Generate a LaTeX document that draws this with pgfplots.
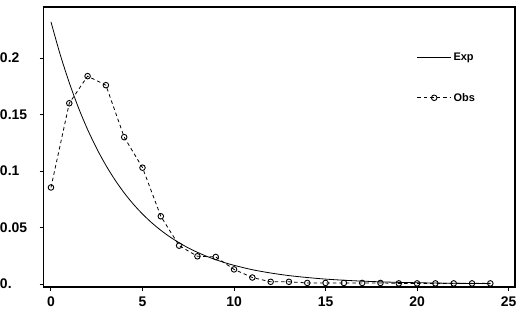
\documentclass[border=0pt]{standalone}
\usepackage{fontspec}
\setmainfont{Liberation Sans}
\usepackage{pgfplots}
\pgfplotsset{compat=1.18}
\begin{document}
\begin{tikzpicture}
\begin{axis}[
  name=ax,
  scale only axis,
  width=473pt, height=281pt,
  xmin=-0.4, xmax=25.35,
  ymin=-0.0026, ymax=0.2452,
  axis line style={line width=1.6pt},
  tick style={line width=1pt, black},
  tick align=outside,
  major tick length=4pt,
  xtick={0,5,10,15,20,25},
  xticklabels={0,5,10,15,20,25},
  ytick={0,0.05,0.1,0.15,0.2},
  yticklabels={0.,0.05,0.1,0.15,0.2},
  tick pos=left,
  ticklabel style={font=\fontsize{14}{16}\selectfont\bfseries},
  yticklabel style={anchor=west, inner sep=0pt, xshift=-40pt},
  xticklabel style={yshift=-2pt},
  legend style={draw=none, fill=none, at={(rel axis cs:0.785,0.85)}, anchor=north west,
    font=\fontsize{11}{13}\selectfont\bfseries, row sep=27pt},
  legend cell align=left,
  legend image code/.code={\draw[mark repeat=2,mark phase=2,#1] plot coordinates {(0pt,0pt) (17pt,0pt) (34pt,0pt)};},
]
\addplot[black, line width=0.8pt, smooth] coordinates {
(0,0.2320) (0.5,0.2033) (1,0.1782) (1.5,0.1561) (2,0.1368) (2.5,0.1199)
(3,0.1051) (3.5,0.0921) (4,0.0807) (4.5,0.0707) (5,0.0620) (5.5,0.0543)
(6,0.0476) (6.5,0.0417) (7,0.0366) (7.5,0.0320) (8,0.0281) (8.5,0.0246)
(9,0.0216) (9.5,0.0189) (10,0.0166) (11,0.0127) (12,0.0098) (13,0.0075)
(14,0.0058) (15,0.0044) (16,0.0034) (17,0.0026) (18,0.0020) (19,0.0015)
(20,0.0012) (21,0.0009) (22,0.0007) (23,0.0005) (24,0.0004)};
\addlegendentry{Exp}
\addplot[black, line width=0.8pt, dash pattern=on 3.5pt off 3pt, mark=o, mark size=2.8pt,
  mark options={solid, fill=white, line width=0.9pt}] coordinates {
(0,0.0855) (1,0.160) (2,0.184) (3,0.176) (4,0.130) (5,0.103) (6,0.060)
(7,0.034) (8,0.0246) (9,0.024) (10,0.013) (11,0.0058) (12,0.002) (13,0.002)
(14,0.001) (15,0.001) (16,0.001) (17,0.001) (18,0.001) (19,0.0006) (20,0.0006)
(21,0.0006) (22,0.0006) (23,0.0006) (24,0.0006)};
\addlegendentry{Obs}
\end{axis}
\draw[line width=1.6pt, black] (ax.south west) rectangle (ax.north east);
\path ([shift={(-42pt,-21pt)}]ax.south west) rectangle ([shift={(8pt,7pt)}]ax.north east);
\end{tikzpicture}
\end{document}
